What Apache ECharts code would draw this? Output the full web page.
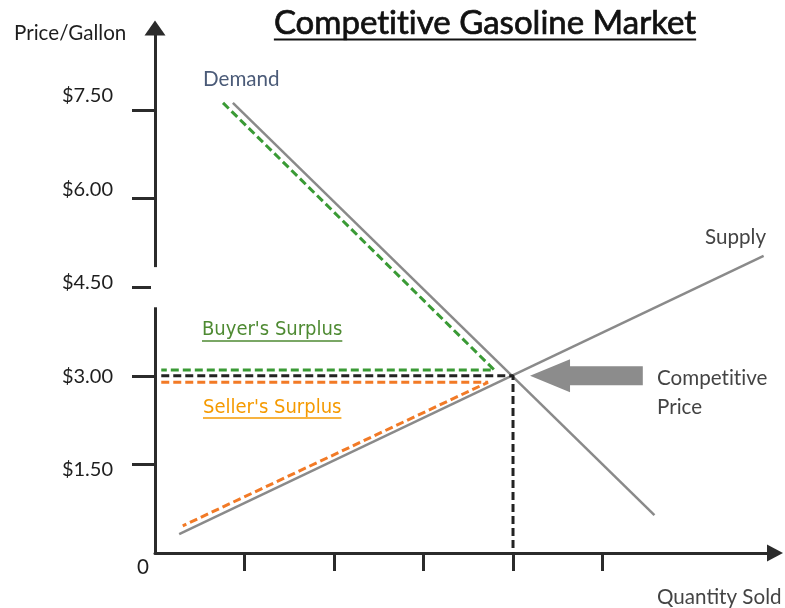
<!DOCTYPE html>
<html><head><meta charset="utf-8">
<script src="https://cdn.jsdelivr.net/npm/echarts@6/dist/echarts.min.js"></script>
<style>html,body{margin:0;padding:0;background:#fff}#c{width:785px;height:608px}</style>
</head><body><div id="c"></div>
<script>
// ---- data ----
const chartTitle = 'Competitive Gasoline Market';
const yTickValues = [1.5, 3, 4.5, 6, 7.5];
const yTickLabels = ['$1.50', '$3.00', '$4.50', '$6.00', '$7.50'];
const xTickValues = [1, 2, 3, 4, 5];
const demandLine = [[0.87, 7.62], [5.58, 0.64]];
const supplyLine = [[0.27, 0.32], [6.80, 5.03]];
const buyerSurplus = [[0.76, 7.62], [3.79, 3.10], [0.07, 3.10]];
const sellerSurplus = [[0.07, 2.89], [3.72, 2.89], [0.31, 0.46]];
const equilibriumGuide = [[0.07, 3.0], [4.0, 3.0], [4.0, 0]];
const priceArrow = [[4.19, 5.45, 3.0]]; // tip quantity, tail quantity, price
const yAxisGap = [4.16, 4.84];

const LATO = 'Lato, "Noto Sans", sans-serif';
const SURPLUS_FONT = '"DejaVu Sans Condensed", "DejaVu Sans", sans-serif';
const NOLIG = s => s.replace(/ti/g, 't\u200Ci');

const chart = echarts.init(document.getElementById('c'), null, {renderer: 'canvas'});

function measure(text, font) {
  const ctx = document.createElement('canvas').getContext('2d');
  ctx.font = font;
  return ctx.measureText(text).width;
}

const axisColor = '#2b2b2b';

const option = {
  animation: false,
  backgroundColor: '#fff',
  grid: {left: 155, right: 10, top: 28, bottom: 55, containLabel: false},
  xAxis: {
    type: 'value', min: 0, max: 6.927,
    axisLine: {show: true, lineStyle: {color: axisColor, width: 3}, symbol: ['none', 'triangle'], symbolSize: [17, 16]},
    axisTick: {show: true, customValues: xTickValues, length: 18, lineStyle: {color: axisColor, width: 3}},
    axisLabel: {show: false},
    splitLine: {show: false}
  },
  yAxis: [{
    type: 'value', min: 0, max: 8.888,
    axisLine: {show: true, lineStyle: {color: axisColor, width: 3}, symbol: ['none', 'triangle'], symbolSize: [21, 15]},
    axisTick: {show: true, customValues: yTickValues, length: 23, lineStyle: {color: axisColor, width: 3}},
    axisLabel: {show: false},
    splitLine: {show: false}
  }, {
    type: 'value', min: 0.168, max: 8.591, position: 'left',
    axisLine: {show: false}, axisTick: {show: false}, splitLine: {show: false},
    axisLabel: {
      show: true, customValues: yTickValues, margin: 42,
      fontFamily: LATO, fontSize: 20, color: '#1e1e1e',
      formatter: v => { const i = yTickValues.findIndex(t => Math.abs(t - v) < 1e-6); return i >= 0 ? yTickLabels[i] : ''; }
    }
  }],
  series: [
    {type: 'line', data: demandLine, symbol: 'none', lineStyle: {color: '#8a8a8a', width: 2.5}, z: 2},
    {type: 'line', data: supplyLine, symbol: 'none', lineStyle: {color: '#8a8a8a', width: 2.5}, z: 2},
    {type: 'line', data: buyerSurplus, symbol: 'none', lineStyle: {color: '#3a9a35', width: 3, type: [8, 4]}, z: 3},
    {type: 'line', data: sellerSurplus, symbol: 'none', lineStyle: {color: '#f27a26', width: 3, type: [8, 4]}, z: 3},
    {type: 'line', data: equilibriumGuide, symbol: 'none', lineStyle: {color: '#222', width: 3, type: [8, 4]}, z: 3},
    {
      type: 'custom', data: priceArrow, z: 4,
      renderItem: (params, api) => {
        const tip = api.coord([api.value(0), api.value(2)]);
        const tail = api.coord([api.value(1), api.value(2)]);
        const headLen = 40, headHalf = 16.5, shaftHalf = 9.5;
        const hb = tip[0] + headLen, y = tip[1];
        return {
          type: 'polygon',
          shape: {points: [[tip[0], y], [hb, y - headHalf], [hb, y - shaftHalf], [tail[0], y - shaftHalf], [tail[0], y + shaftHalf], [hb, y + shaftHalf], [hb, y + headHalf]]},
          style: {fill: '#8c8c8c'}
        };
      }
    }
  ]
};
chart.setOption(option);

// annotations
const gTop = chart.convertToPixel({yAxisIndex: 0}, yAxisGap[1]);
const gBot = chart.convertToPixel({yAxisIndex: 0}, yAxisGap[0]);
const axisX = chart.convertToPixel({xAxisIndex: 0}, 0);

function txt(text, x, y, font, size, color, align, weight) {
  return {type: 'text', x: x, y: y, z: 50, style: {text: text, font: (weight || 'normal') + ' ' + size + 'px ' + font, fill: color, align: align || 'left', verticalAlign: 'middle'}};
}
function underlined(text, x, y, font, size, color, gap, lw) {
  const w = measure(text, size + 'px ' + font);
  return [txt(text, x, y, font, size, color),
    {type: 'line', z: 50, shape: {x1: x, y1: y + gap, x2: x + w, y2: y + gap}, style: {stroke: color, lineWidth: lw}}];
}
const titleText = NOLIG(chartTitle);
const titleSize = 33;
const titleW = measure(titleText, 'normal ' + titleSize + 'px ' + LATO);
const titleCx = 485;
const LS = 20.6;

const titleEl = txt(titleText, titleCx, 23, LATO, titleSize, '#111', 'center', 'normal');
titleEl.style.stroke = '#111';
titleEl.style.lineWidth = 0.7;

const elements = [
  {type: 'rect', z: 60, shape: {x: axisX - 4, y: gTop, width: 8, height: gBot - gTop}, style: {fill: '#fff'}},
  titleEl,
  {type: 'line', z: 50, shape: {x1: titleCx - titleW / 2, y1: 39.5, x2: titleCx + titleW / 2, y2: 39.5}, style: {stroke: '#111', lineWidth: 2}},
  txt('Price/Gallon', 14, 33, LATO, LS, '#1e1e1e'),
  txt('Demand', 203, 79, LATO, LS, '#4b5b78'),
  txt('Supply', 705, 237, LATO, LS, '#444'),
  txt(NOLIG('Competitive'), 657, 378, LATO, LS, '#444'),
  txt('Price', 657, 407, LATO, LS, '#444'),
  txt('Quantity Sold', 657, 597, LATO, LS, '#444'),
  txt('0', 143, 567, LATO, LS, '#1e1e1e', 'center'),
  ...underlined("Buyer's Surplus", 202, 330, SURPLUS_FONT, 20, '#4e8a32', 11, 1.5),
  ...underlined("Seller's Surplus", 203, 408, SURPLUS_FONT, 20, '#f59a00', 10, 1.5)
];
chart.setOption({graphic: {elements: elements}});
</script>
</body></html>
